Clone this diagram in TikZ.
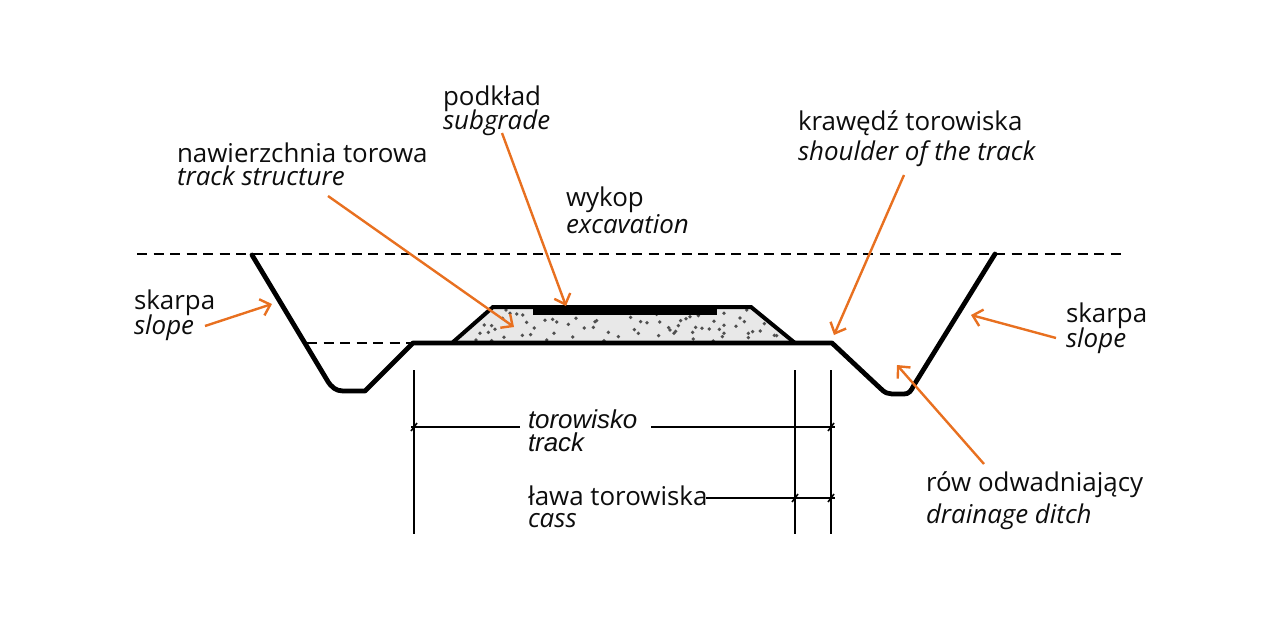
\documentclass[tikz,border=0pt]{standalone}
\usepackage{fontspec}
\setmainfont{Open Sans}
\newfontfamily\arialfont{Liberation Sans}
\usetikzlibrary{arrows.meta}
\definecolor{arrowor}{RGB}{232,112,32}
\definecolor{fillgray}{RGB}{232,232,232}
\definecolor{dotgray}{RGB}{80,80,80}
\tikzset{
  lab/.style={anchor=base west,inner sep=0pt,outer sep=0pt,font=\fontsize{25.9}{26}\selectfont,text=black!95},
  labit/.style={lab,font=\fontsize{25.9}{26}\selectfont\itshape},
  dimlab/.style={anchor=base west,inner sep=0pt,outer sep=0pt,font=\fontsize{25.9}{26}\selectfont\arialfont\itshape,text=black!95},
  pointer/.style={draw=arrowor,line width=2.4pt,-{Straight Barb[length=9pt,width=17pt,line width=2.4pt]}},
  profile/.style={draw=black,line width=4.8pt,line join=round,line cap=round},
  groundline/.style={draw=black,line width=1.5pt,dash pattern=on 10pt off 6.5pt},
  dimline/.style={draw=black,line width=2pt},
  dimtick/.style={draw=black,line width=1.6pt},
}
\begin{document}
\begin{tikzpicture}[x=1pt,y=-1pt]
\useasboundingbox (0,0) rectangle (1280,621);
% ballast
\fill[fillgray] (493,307) -- (751,307) -- (795,343) -- (452,343) -- cycle;
\foreach \a/\b in {228/90,240/100,260/102,278/105,218/115,290/127,345/121,368/118,380/126,415/133,438/115,495/125,500/122,490/142,463/144,602/112,632/125,651/128,689/126,752/122,768/116,780/110,805/107,852/124,882/100,950/90,930/114,943/125,1003/131,918/139,882/136,868/148,838/147,816/145,797/142,788/157,745/137,716/143,720/150,737/154,732/160,613/149,625/160,686/167,535/157,565/170,428/171,372/160,313/144,302/164,277/166,222/172,163/135,185/137,195/148,175/157,150/160,138/180,185/182,350/180,522/182,790/177,877/170,882/160,955/173,955/160,968/155,991/153,1033/166,1040/167,850/183,680/103}
  \fill[dotgray] ({430+\a/3},{280+\b/3}) circle [radius=1.9pt];
% ground levels
\coordinate (gl) at (137,254);
\coordinate (gr) at (1121,254);
\coordinate (sl) at (307,343);
\coordinate (sr) at (412,343);
\draw[groundline] (gl) -- (gr);
\draw[groundline] (sl) -- (sr);
% profile
\draw[profile] (252,255) -- (327,380) .. controls (331,387) and (336,391) .. (343,391) -- (365,391) -- (413,343) -- (832,343) -- (880,388) .. controls (885,393) and (888,394) .. (892,394) -- (904,394) .. controls (909,394) and (911,391) .. (914,385) -- (995,254);
\draw[draw=black,line width=4pt,line join=miter] (452,343) -- (493,307) -- (751,307) -- (795,343);
\fill[black] (533,307) rectangle (717,315);
% dimension verticals
\coordinate (v1t) at (414,370); \coordinate (v1b) at (414,534);
\coordinate (v2t) at (795,370); \coordinate (v2b) at (795,534);
\coordinate (v3t) at (831,370); \coordinate (v3b) at (831,534);
\draw[dimline] (v1t) -- (v1b);
\draw[dimline] (v2t) -- (v2b);
\draw[dimline] (v3t) -- (v3b);
% dimension lines
\coordinate (d1a) at (411,427); \coordinate (d1b) at (520,427);
\coordinate (d1c) at (651,427); \coordinate (d1d) at (835,427);
\coordinate (d2a) at (706,498); \coordinate (d2d) at (835,498);
\draw[dimline] (d1a) -- (d1b);
\draw[dimline] (d1c) -- (d1d);
\draw[dimline] (d2a) -- (d2d);
\foreach \x/\y in {414/427,831/427,795/498,831/498}
  \draw[dimtick] (\x-3,\y+4) -- (\x+3,\y-4);
% labels
\node[lab] (podklad) at (443,105) {podkład};
\node[labit] (subgrade) at (443,129) {subgrade};
\node[lab] (naw) at (177,162) {nawierzchnia torowa};
\node[labit] (trackstr) at (177,185) {track structure};
\node[lab] (wykop) at (566,206) {wykop};
\node[labit] (exc) at (566,233) {excavation};
\node[lab] (kraw) at (798,130) {krawędź torowiska};
\node[labit] (should) at (798,160) {shoulder of the track};
\node[lab] (skl) at (134,309) {skarpa};
\node[labit] (sll) at (134,334) {slope};
\node[lab] (skr) at (1066,322) {skarpa};
\node[labit] (slr) at (1066,347) {slope};
\node[lab] (row) at (926,491) {rów odwadniający};
\node[labit] (ditch) at (926,523) {drainage ditch};
\node[dimlab] (toro) at (528,428) {torowisko};
\node[dimlab] (track) at (528,451) {track};
\node[lab] (lawa) at (528,505) {ława torowiska};
\node[labit] (cass) at (528,527) {cass};
% pointers
\coordinate (p1s) at (502,133); \coordinate (p1e) at (566,306);
\coordinate (p2s) at (328,196); \coordinate (p2e) at (514,327);
\coordinate (p3s) at (904,175); \coordinate (p3e) at (834,335);
\coordinate (p4s) at (205,326); \coordinate (p4e) at (272,304);
\coordinate (p5s) at (1056,338); \coordinate (p5e) at (971,315);
\coordinate (p6s) at (984,464); \coordinate (p6e) at (897,365);
\draw[pointer] (p1s) -- (p1e);
\draw[pointer] (p2s) -- (p2e);
\draw[pointer] (p3s) -- (p3e);
\draw[pointer] (p4s) -- (p4e);
\draw[pointer] (p5s) -- (p5e);
\draw[pointer] (p6s) -- (p6e);
\end{tikzpicture}
\end{document}
